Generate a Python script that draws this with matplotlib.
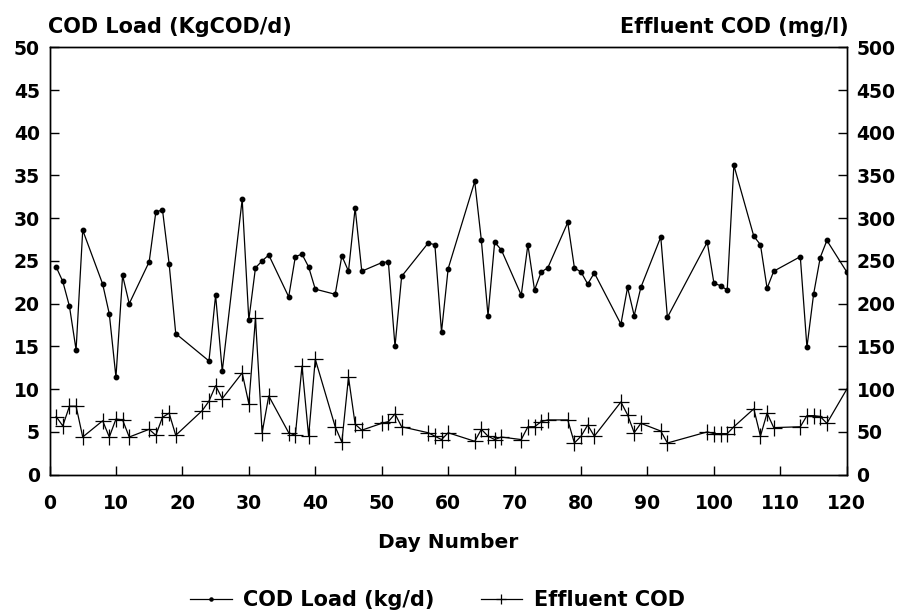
import matplotlib
matplotlib.use("Agg")
import matplotlib.pyplot as plt

plt.rcParams['font.family'] = ['DejaVu Sans']
plt.rcParams['font.weight'] = 'bold'

# COD load (kg/d), left axis
load_days = [1, 2, 3, 4, 5, 8, 9, 10, 11, 12, 15, 16, 17, 18, 19, 24, 25, 26, 29, 30,
             31, 32, 33, 36, 37, 38, 39, 40, 43, 44, 45, 46, 47, 50, 51, 52, 53, 57, 58, 59,
             60, 64, 65, 66, 67, 68, 71, 72, 73, 74, 75, 78, 79, 80, 81, 82, 86, 87, 88, 89,
             92, 93, 99, 100, 101, 102, 103, 106, 107, 108, 109, 113, 114, 115, 116, 117, 120]
load_vals = [24.3, 22.6, 19.7, 14.6, 28.6, 22.3, 18.8, 11.4, 23.3, 20.0, 24.9, 30.7, 31.0, 24.7, 16.5, 13.3, 21.0, 12.1, 32.2, 18.1,
             24.2, 25.0, 25.7, 20.8, 25.5, 25.8, 24.3, 21.7, 21.1, 25.6, 23.8, 31.2, 23.8, 24.8, 24.9, 15.0, 23.2, 27.1, 26.9, 16.7,
             24.1, 34.3, 27.4, 18.6, 27.2, 26.3, 21.0, 26.9, 21.6, 23.7, 24.2, 29.5, 24.2, 23.7, 22.3, 23.6, 17.6, 21.9, 18.6, 21.9,
             27.8, 18.4, 27.2, 22.4, 22.1, 21.6, 36.2, 27.9, 26.9, 21.8, 23.8, 25.5, 14.9, 21.1, 25.4, 27.4, 23.7]

# Effluent COD (mg/l), right axis
eff_days = [1, 2, 3, 4, 5, 8, 9, 10, 11, 12, 15, 16, 17, 18, 19, 23, 24, 25, 26, 29,
            30, 31, 32, 33, 36, 37, 38, 39, 40, 43, 44, 45, 46, 47, 50, 51, 52, 53, 57, 58,
            59, 60, 64, 65, 66, 67, 68, 71, 72, 73, 74, 75, 78, 79, 80, 81, 82, 86, 87, 88,
            89, 92, 93, 99, 100, 101, 102, 103, 106, 107, 108, 109, 113, 114, 115, 116, 117, 120]
eff_vals = [68, 57, 80, 80, 44, 63, 44, 65, 64, 44, 53, 46, 67, 72, 46, 75, 86, 104, 89, 119,
            83, 183, 49, 92, 49, 46, 127, 45, 135, 56, 38, 114, 59, 52, 60, 62, 71, 56, 49, 45,
            41, 49, 39, 53, 45, 41, 44, 41, 56, 56, 62, 64, 64, 37, 45, 58, 45, 85, 70, 49,
            60, 51, 37, 50, 48, 48, 48, 56, 77, 45, 72, 55, 56, 69, 69, 68, 60, 100]

x_ticks = list(range(0, 121, 10))
left_ticks = list(range(0, 51, 5))
right_ticks = list(range(0, 501, 50))

fig = plt.figure(figsize=(9.05, 6.14), dpi=100)
ax = fig.add_axes([0.0547, 0.227, 0.881, 0.696])
ax2 = ax.twinx()

l1, = ax.plot(load_days, load_vals, color='black', lw=0.9, marker='o', ms=3.2,
              label='COD Load (kg/d)')
l2, = ax2.plot(eff_days, eff_vals, color='black', lw=0.9, marker='+', ms=11, mew=0.9,
               label='Effluent COD')

ax.set_xlim(0, 120)
ax.set_ylim(0, 50)
ax2.set_ylim(0, 500)
ax.set_xticks(x_ticks)
ax.set_yticks(left_ticks)
ax2.set_yticks(right_ticks)

for a in (ax, ax2):
    a.tick_params(direction='in', length=6.5, width=1, labelsize=13.5)
    for s in a.spines.values():
        s.set_linewidth(1)
ax.tick_params(axis='x', pad=14)
ax.tick_params(axis='y', pad=7)
ax2.tick_params(axis='y', pad=7)

ax.set_xlabel('Day Number', fontsize=14.5, fontweight='bold', labelpad=14)
fig.text(0.053, 0.9455, 'COD Load (KgCOD/d)', fontsize=15, fontweight='bold',
         ha='left', va='baseline')
fig.text(0.938, 0.9455, 'Effluent COD (mg/l)', fontsize=15, fontweight='bold',
         ha='right', va='baseline')

fig.legend(handles=[l1, l2], loc='center', bbox_to_anchor=(0.4834, 0.022), ncol=2,
           frameon=False, fontsize=15, handlelength=2.0, handletextpad=0.55,
           columnspacing=2.2, markerscale=0.7)

fig.savefig('out.png', dpi=100)
